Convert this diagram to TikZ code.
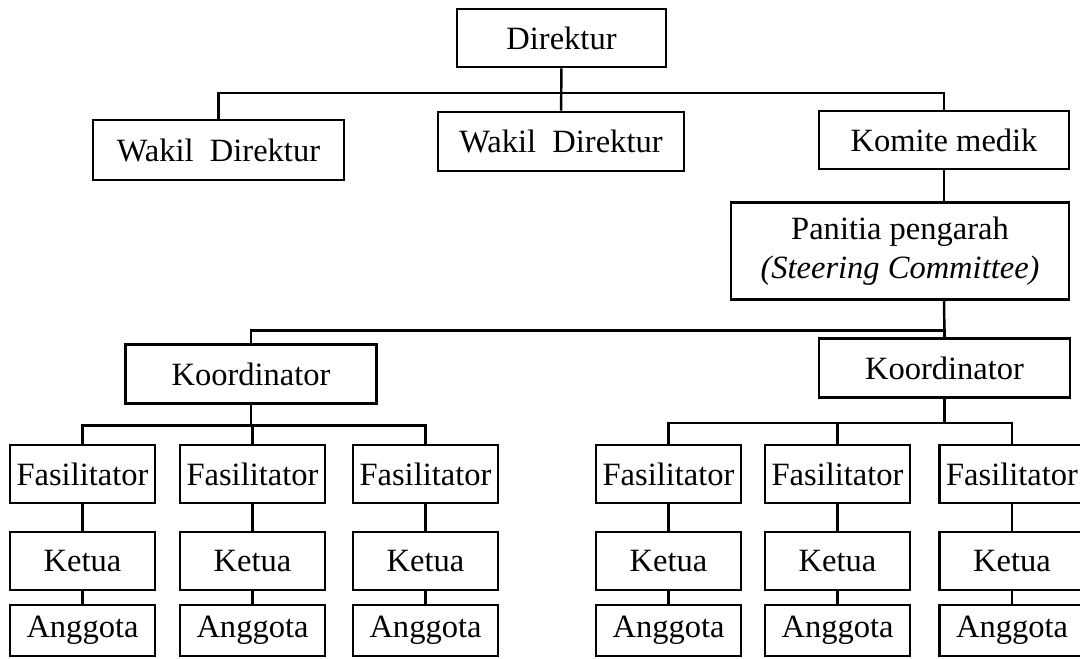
\documentclass[tikz,border=0pt]{standalone}
\usepackage{fontspec}
\setmainfont{Liberation Serif}
\tikzset{
  orgbox/.style={draw, line width=1.6pt, inner sep=2pt, minimum height=1.16cm, font=\fontsize{18.5}{22}\selectfont, align=center},
  link/.style={line width=1.4pt}
}
\begin{document}
\begin{tikzpicture}
              \useasboundingbox (0,0) rectangle (21.6,-13.16);

              \coordinate (topbus) at (0,-1.86);
              \coordinate (midbus) at (0,-6.61);
              \coordinate (busA) at (0,-8.51);
              \coordinate (busB) at (0,-8.46);

              \node[orgbox, minimum width=4.18cm] (dir) at (11.23,-0.76) {Direktur};
              \node[orgbox, minimum width=5.02cm, minimum height=1.2cm] (wakilA) at (4.37,-3.0) {Wakil\ \ Direktur};
              \node[orgbox, minimum width=4.92cm, minimum height=1.18cm] (wakilB) at (11.22,-2.83) {Wakil\ \ Direktur};
              \node[orgbox, minimum width=5.0cm] (komite) at (18.88,-2.8) {Komite medik};
              \node[orgbox, minimum width=6.76cm, minimum height=1.94cm] (panitia) at (18.0,-5.02) {Panitia pengarah\\\textit{(Steering Committee)}};
              \node[orgbox, minimum width=5.02cm, minimum height=1.17cm] (koorA) at (5.02,-7.48) {Koordinator};
              \node[orgbox, minimum width=5.02cm, minimum height=1.18cm] (koorB) at (18.89,-7.36) {Koordinator};

              \draw[link] (dir) -- (wakilB);
              \draw[link] (wakilA.north) -- (wakilA.north |- topbus) -| (komite.north);
              \draw[link] (komite.south) -- (komite.south |- panitia.north);
              \draw[link] (komite.south |- panitia.south) -- (koorB.north);
              \draw[link] (koorA.north) -- (koorA.north |- midbus) -| (koorB.north);

              \foreach \n/\x in {A1/1.65, A2/5.05, A3/8.51, B1/13.37, B2/16.75, B3/20.24}{
                \node[orgbox, minimum width=2.9cm] (fas\n) at (\x,-9.48) {Fasilitator};
                \node[orgbox, minimum width=2.9cm] (ket\n) at (\x,-11.22) {Ketua};
                \node[orgbox, minimum width=2.9cm, minimum height=1.02cm] (ang\n) at (\x,-12.61) {Anggota};
                \draw[link] (fas\n) -- (ket\n);
                \draw[link] (ket\n) -- (ang\n);
              }

              \draw[link] (koorA.south) -- (koorA.south |- busA);
              \draw[link] (fasA1.north) -- (fasA1.north |- busA) -| (fasA3.north);
              \draw[link] (fasA2.north) -- (fasA2.north |- busA);

              \draw[link] (koorB.south) -- (koorB.south |- busB);
              \draw[link] (fasB1.north) -- (fasB1.north |- busB) -| (fasB3.north);
              \draw[link] (fasB2.north) -- (fasB2.north |- busB);
            \end{tikzpicture}
\end{document}
